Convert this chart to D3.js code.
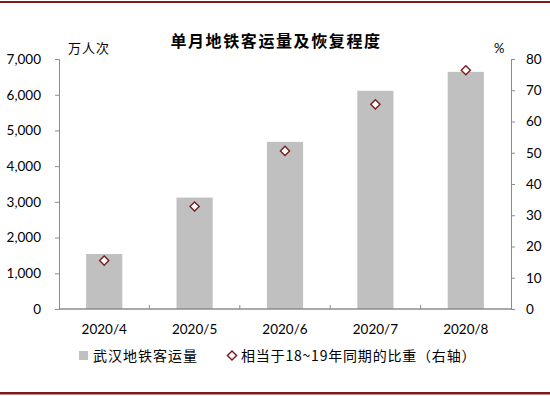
<!DOCTYPE html>
<html><head><meta charset="utf-8">
<script src="https://d3js.org/d3.v7.min.js"></script>
<style>
  body { margin: 0; background: #fff; }
  text { font-family: Lato, "Noto Sans CJK SC", sans-serif; fill: #000; }
  .cjk { font-family: "Noto Sans CJK SC", sans-serif; }
</style>
</head>
<body>
<svg id="chart" width="550" height="396"></svg>
<script>
// data
const months = ["2020/4", "2020/5", "2020/6", "2020/7", "2020/8"];
const riders = [1540, 3120, 4680, 6110, 6640];     // 万人次, left axis
const ratio = [15.5, 32.8, 50.6, 65.5, 76.4];      // %, right axis
const leftTicks = [0, 1000, 2000, 3000, 4000, 5000, 6000, 7000];
const rightTicks = [0, 10, 20, 30, 40, 50, 60, 70, 80];

const svg = d3.select("#chart");
const red = "#7b1c1c";
const axisGray = "#8c8c8c";

// frame lines top / bottom
svg.append("rect").attr("x", 0).attr("y", 1).attr("width", 550).attr("height", 2).attr("fill", red);
svg.append("rect").attr("x", 0).attr("y", 392).attr("width", 550).attr("height", 2.5).attr("fill", red);

const plotL = 59, plotR = 511, plotT = 59, plotB = 309;

let x = d3.scaleBand().domain(months).range([plotL, plotR]).paddingInner(0).paddingOuter(0);
let yL = d3.scaleLinear().domain([0, 7000]).range([plotB, plotT]);
let yR = d3.scaleLinear().domain([0, 80]).range([plotB, plotT]);

// bars
const barW = x.bandwidth() * 0.4;
svg.selectAll("rect.bar").data(months).enter().append("rect")
  .attr("class", "bar")
  .attr("x", d => x(d) + (x.bandwidth() - barW) / 2)
  .attr("y", (d, i) => yL(riders[i]))
  .attr("width", barW)
  .attr("height", (d, i) => plotB - yL(riders[i]))
  .attr("fill", "#c0c0c0");

// left axis
let gL = svg.append("g").attr("transform", `translate(${plotL},0)`)
  .call(d3.axisLeft(yL).tickValues(leftTicks).tickSize(4).tickPadding(14).tickFormat(d3.format(",")));
gL.selectAll("path, line").attr("stroke", axisGray);
gL.selectAll("text").style("font-size", "13.5px").attr("font-family", "Lato, sans-serif");

// right axis
let gR = svg.append("g").attr("transform", `translate(${plotR},0)`)
  .call(d3.axisRight(yR).tickValues(rightTicks).tickSize(4).tickPadding(11));
gR.selectAll("path, line").attr("stroke", axisGray);
gR.selectAll("text").style("font-size", "13.5px");

// bottom axis: line plus inward ticks at category boundaries
let gB = svg.append("g");
gB.append("line").attr("x1", plotL).attr("x2", plotR).attr("y1", plotB).attr("y2", plotB)
  .attr("stroke", axisGray).attr("stroke-width", 1.3);
gB.selectAll("line.tk").data(months.slice(1)).enter().append("line")
  .attr("x1", d => x(d)).attr("x2", d => x(d))
  .attr("y1", plotB).attr("y2", plotB - 4).attr("stroke", axisGray);
gB.selectAll("text").data(months).enter().append("text")
  .attr("x", d => x(d) + x.bandwidth() / 2)
  .attr("y", 334)
  .attr("text-anchor", "middle")
  .style("font-size", "13.5px")
  .text(d => d);

// diamonds
const dia = d3.symbol().type(d3.symbolSquare).size(42);
svg.selectAll("path.pt").data(months).enter().append("path")
  .attr("class", "pt")
  .attr("d", dia)
  .attr("transform", (d, i) => `translate(${x(d) + x.bandwidth() / 2},${yR(ratio[i])}) rotate(45)`)
  .attr("fill", "#fff")
  .attr("stroke", red)
  .attr("stroke-width", 1.4);

// titles
svg.append("text").attr("class", "cjk").attr("x", 276).attr("y", 47)
  .attr("text-anchor", "middle").style("font-size", "16px").style("font-weight", "bold")
  .style("letter-spacing", "1.6px")
  .text("单月地铁客运量及恢复程度");
svg.append("text").attr("class", "cjk").attr("x", 68).attr("y", 53)
  .style("font-size", "13px").style("letter-spacing", "1px").text("万人次");
svg.append("text").attr("x", 494).attr("y", 53)
  .style("font-size", "13px").text("%");

// legend
svg.append("rect").attr("x", 79).attr("y", 351).attr("width", 9).attr("height", 9).attr("fill", "#c0c0c0");
svg.append("text").attr("class", "cjk").attr("x", 93).attr("y", 361)
  .style("font-size", "14px").style("letter-spacing", "1px").text("武汉地铁客运量");
svg.append("path").attr("d", dia)
  .attr("transform", "translate(232,355.5) rotate(45)")
  .attr("fill", "#fff").attr("stroke", red).attr("stroke-width", 1.4);
svg.append("text").attr("class", "cjk").attr("x", 241).attr("y", 361)
  .style("font-size", "14px").style("letter-spacing", "0.8px").text("相当于18~19年同期的比重（右轴）");
</script>
</body></html>
